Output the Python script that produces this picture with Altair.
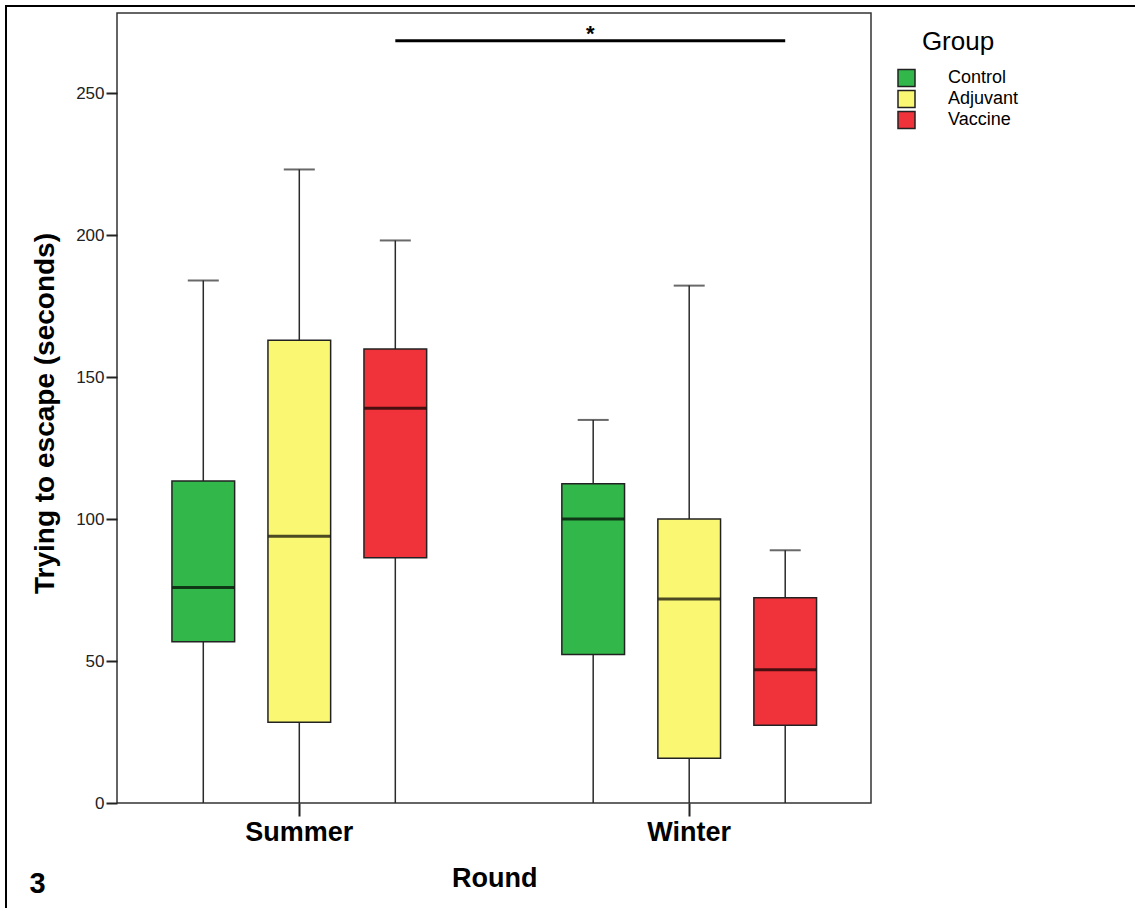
import altair as alt
import pandas as pd

# ---------------- data ----------------
rounds = ["Summer", "Summer", "Summer", "Winter", "Winter", "Winter"]
groups = ["Control", "Adjuvant", "Vaccine", "Control", "Adjuvant", "Vaccine"]
whisker_low = [0, 0, 0, 0, 0, 0]
q1 = [56.8, 28.4, 86.4, 52.3, 15.8, 27.4]
median = [75.9, 93.9, 139.0, 100.0, 71.8, 46.9]
q3 = [113.4, 163.0, 159.9, 112.4, 100.0, 72.3]
whisker_high = [184.0, 223.1, 198.1, 134.9, 182.2, 89.0]

group_order = ["Control", "Adjuvant", "Vaccine"]
group_colors = ["#32B84A", "#FAF772", "#F0323A"]
round_order = ["Summer", "Winter"]
y_ticks = [0, 50, 100, 150, 200, 250]

sig_rounds = ["Summer", "Winter"]
sig_groups = ["Vaccine", "Vaccine"]
sig_level = [268.4, 268.4]
sig_label = "*"
panel_label = "3"

FONT = "Liberation Sans"

df = pd.DataFrame({
    "Round": rounds, "Group": groups, "low": whisker_low, "q1": q1,
    "median": median, "q3": q3, "high": whisker_high,
})
sig_df = pd.DataFrame({"Round": sig_rounds, "Group": sig_groups, "level": sig_level})
star_df = pd.DataFrame({"Round": ["Winter"], "Group": ["Control"],
                        "level": [sig_level[0]], "label": [sig_label]})
deco_df = pd.DataFrame({"label": [panel_label]})

x_scale = alt.Scale(domain=round_order, range=[-12.65, 767.15],
                    paddingInner=0, paddingOuter=0)
x_axis = alt.Axis(title="Round", labelAngle=0, labelFont=FONT, labelFontSize=27,
                  labelFontWeight="bold", labelColor="black", labelPadding=3,
                  tickSize=13, tickWidth=2, tickColor="#222", domain=False,
                  titleFont=FONT, titleFontSize=27, titleFontWeight="bold",
                  titleColor="black", titleY=75, titleBaseline="middle")
xo_scale = alt.Scale(domain=group_order, paddingInner=0.347, paddingOuter=0.704)

y_scale = alt.Scale(domain=[0, 278.2], nice=False, zero=True)
y_axis = alt.Axis(values=y_ticks, tickSize=11, tickWidth=2, tickColor="#222",
                  labelFont=FONT, labelFontSize=17, labelColor="#222",
                  labelPadding=2, domain=False, grid=False,
                  titleFont=FONT, titleFontSize=28, titleFontWeight="bold",
                  titleColor="black", titleX=-72, titleY=400,
                  titleBaseline="middle")
Y_TITLE = "Trying to escape (seconds)"


def X():
    return alt.X("Round:N", sort=round_order, scale=x_scale, axis=x_axis)


def XO():
    return alt.XOffset("Group:N", sort=group_order, scale=xo_scale)


def Y(field):
    return alt.Y(field, scale=y_scale, axis=y_axis, title=Y_TITLE)


base = alt.Chart(df)

whisker = base.mark_rule(color="#2a2a2a", strokeWidth=1.5).encode(
    x=X(), xOffset=XO(), y=Y("low:Q"), y2="high:Q")

cap = base.mark_tick(color="#2a2a2a", size=31, thickness=2, orient="horizontal").encode(
    x=X(), xOffset=XO(), y=Y("high:Q"))

box = base.mark_bar(stroke="#222", strokeWidth=1.5, opacity=1).encode(
    x=X(), xOffset=XO(), y=Y("q1:Q"), y2="q3:Q",
    fill=alt.Fill("Group:N", sort=group_order,
                  scale=alt.Scale(domain=group_order, range=group_colors),
                  legend=alt.Legend(
                      title="Group", orient="none", legendX=780, legendY=15.5,
                      titleFont=FONT, titleFontSize=26, titleFontWeight="normal",
                      titleColor="black", titleAnchor="middle", titlePadding=14,
                      labelFont=FONT, labelFontSize=18, labelColor="black",
                      labelOffset=32, symbolType="square", symbolSize=289,
                      symbolStrokeColor="#222", symbolStrokeWidth=1.5,
                      symbolOpacity=1, rowPadding=-2, padding=0)))

med = base.mark_tick(color="black", size=62, thickness=3, orient="horizontal").encode(
    x=X(), xOffset=XO(), y=Y("median:Q"))

sig_line = alt.Chart(sig_df).mark_line(color="black", strokeWidth=3).encode(
    x=X(), xOffset=XO(), y=Y("level:Q"))

star = alt.Chart(star_df).mark_text(font=FONT, fontSize=22, fontWeight="bold",
                                    color="black", dx=-3, dy=0,
                                    baseline="alphabetic").encode(
    x=X(), xOffset=XO(), y=Y("level:Q"), text="label:N")

frame = alt.Chart(deco_df).mark_rect(fillOpacity=0, stroke="black", strokeWidth=2).encode(
    x=alt.value(-111), x2=alt.value(1040), y=alt.value(-7), y2=alt.value(910))

panel = alt.Chart(deco_df).mark_text(font=FONT, fontSize=29, fontWeight="bold",
                                     color="black", align="center",
                                     baseline="middle").encode(
    x=alt.value(-79.5), y=alt.value(871), text="label:N")

chart = alt.layer(whisker, cap, box, med, sig_line, star, frame, panel).properties(
    width=754, height=790,
    autosize=alt.AutoSizeParams(type="none"),
    padding={"left": 117, "top": 13, "right": 264, "bottom": 105},
    background="white",
).configure_view(stroke="#333", strokeWidth=1.5)

chart.save("out.html", embed_options={"renderer": "svg", "actions": False})
